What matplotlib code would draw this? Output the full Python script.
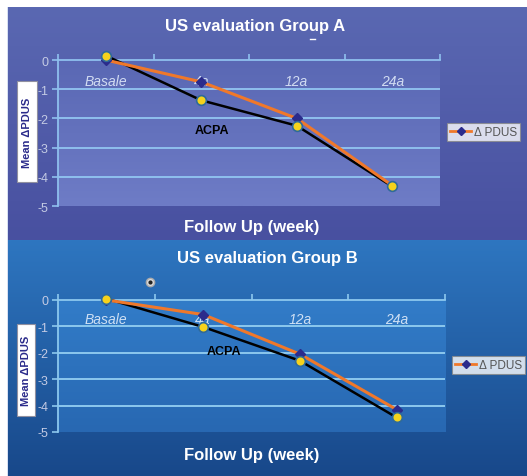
import numpy as np
import matplotlib
matplotlib.use("Agg")
import matplotlib.pyplot as plt
from matplotlib.lines import Line2D
from matplotlib.patches import Rectangle

plt.rcParams['font.family'] = ['Liberation Sans', 'DejaVu Sans']
plt.rcParams['axes.unicode_minus'] = False

# Follow-up visits
categories = ['Basale', '4a', '12a', '24a']

# Group A: mean change in PDUS score
group_a_pdus = [0.0, -0.75, -2.0, -4.3]
group_a_acpa = [0.15, -1.38, -2.25, -4.33]

# Group B
group_b_pdus = [0.0, -0.55, -2.05, -4.15]
group_b_acpa = [0.05, -1.02, -2.3, -4.45]

y_ticks = [0, -1, -2, -3, -4, -5]

W, H = 527, 477
fig = plt.figure(figsize=(W / 100, H / 100), dpi=100)

# slide backgrounds (two stacked panels with vertical gradients)
bg = np.ones((H, W, 3))
top_a, bot_a = np.array([90, 104, 178]) / 255, np.array([72, 80, 160]) / 255
top_b, bot_b = np.array([46, 118, 192]) / 255, np.array([24, 72, 138]) / 255
ya = np.linspace(0, 1, 241 - 8)[:, None]
yb = np.linspace(0, 1, H - 241)[:, None]
bg[8:241, 7:] = (top_a * (1 - ya) + bot_a * ya)[:, None, :]
bg[241:, 7:] = (top_b * (1 - yb) + bot_b * yb)[:, None, :]
bg[8:, 7] = [0.85, 0.88, 0.95]
bg_ax = fig.add_axes([0, 0, 1, 1], zorder=-10)
bg_ax.imshow(bg, extent=(0, W, H, 0), aspect='auto', interpolation='bilinear')
bg_ax.set_xlim(0, W)
bg_ax.set_ylim(H, 0)
bg_ax.axis('off')


def px(x, y):
    return x / W, 1 - y / H


def draw_panel(rect, pdus, acpa, fill_top, fill_bot, acpa_pos, grid_col, lab_col):
    ax = fig.add_axes(rect)
    ax.set_facecolor('none')
    ax.set_xlim(-0.5, 3.5)
    ax.set_ylim(-5, 0)

    # plot area shading
    t = np.linspace(0, 1, 100)[:, None, None]
    grad = np.array(fill_top) / 255 * (1 - t) + np.array(fill_bot) / 255 * t
    ax.imshow(grad, extent=(-0.5, 3.5, -5, 0), aspect='auto', zorder=0)

    for g in y_ticks[1:-1]:
        ax.axhline(g, color=grid_col, lw=1.4, zorder=1)

    for s in ['right', 'bottom']:
        ax.spines[s].set_visible(False)
    for s in ['left', 'top']:
        ax.spines[s].set_color(grid_col)
        ax.spines[s].set_linewidth(1.3)

    ax.set_yticks(y_ticks)
    ax.set_yticklabels([str(v) for v in y_ticks])
    ax.tick_params(axis='y', colors=grid_col, labelcolor='#c4cbe4',
                   labelsize=9, length=4, width=1.2, pad=3)
    ax.xaxis.tick_top()
    ax.set_xticks(np.arange(-0.5, 4, 1))
    ax.set_xticklabels([])
    ax.tick_params(axis='x', colors=grid_col, length=4, width=1.2)

    for i, lab in enumerate(categories):
        ax.text(i, -0.72, lab, ha='center', va='center', style='italic',
                color=lab_col, fontsize=10)

    x = np.arange(len(categories))
    ax.plot(x, acpa, color='black', lw=1.8, zorder=3, clip_on=False)
    ax.plot(x, pdus, color='#f0782a', lw=2.2, zorder=4, clip_on=False)
    ax.plot(x, pdus, ls='none', marker='D', ms=5, color='#2b2b8c',
            zorder=5, clip_on=False)
    ax.plot(x, acpa, ls='none', marker='o', ms=7, mfc='#f6d21c',
            mec='#2f6a9a', mew=1.2, zorder=6, clip_on=False)

    ax.text(acpa_pos[0], acpa_pos[1], 'ACPA', ha='center', va='center',
            fontsize=9, fontweight='bold', color='black', zorder=7)
    return ax


draw_panel([58 / W, 1 - 207 / H, 382 / W, 146 / H], group_a_pdus, group_a_acpa,
           (90, 104, 180), (110, 124, 198), (1.11, -2.4), '#8fc0ee', '#d2dcf2')
draw_panel([58 / W, 1 - 433 / H, 387 / W, 132 / H], group_b_pdus, group_b_acpa,
           (50, 124, 200), (40, 104, 178), (1.22, -1.95), '#8cc8ee', '#cfe0f4')

# titles and axis captions
for (x, y), s in [((255, 27), 'US evaluation Group A'),
                  ((267, 258), 'US evaluation Group B')]:
    fig.text(*px(x, y), s, ha='center', va='center', color='white',
             fontsize=12, fontweight='bold')
for (x, y) in [(252, 228), (252, 456)]:
    fig.text(*px(x, y), 'Follow Up (week)', ha='center', va='center',
             color='white', fontsize=12, fontweight='bold')

# y-axis caption boxes
for (x0, y0, x1, y1) in [(17, 82, 37, 183), (17, 325, 35, 417)]:
    fig.patches.append(Rectangle(px(x0, y1), (x1 - x0) / W, (y1 - y0) / H,
                                 transform=fig.transFigure, facecolor='white',
                                 edgecolor='#9090a0', lw=0.8, zorder=-5))
    fig.text(*px((x0 + x1) / 2, (y0 + y1) / 2), 'Mean ΔPDUS', rotation=90,
             ha='center', va='center', color='#2a2a8a', fontsize=8,
             fontweight='bold')

# legends
handle = Line2D([], [], color='#f0782a', lw=2, marker='D', ms=4.5,
                mfc='#2b2b8c', mec='#2b2b8c')
for (x, y) in [(447, 133), (452, 366)]:
    leg = fig.legend([handle], ['Δ PDUS'], loc='center left',
                     bbox_to_anchor=px(x, y), frameon=True, fancybox=False,
                     fontsize=8.5, handlelength=1.8, handletextpad=0.2,
                     borderpad=0.25, borderaxespad=0)
    leg.get_frame().set_edgecolor('#888888')
    leg.get_frame().set_linewidth(0.8)
    for t in leg.get_texts():
        t.set_color('#555555')

# small marks on the slides
fig.lines.append(Line2D([310 / W, 315 / W], [1 - 40 / H, 1 - 40 / H],
                        transform=fig.transFigure, color='white', lw=1))
fig.lines.append(Line2D([150 / W], [1 - 283 / H], transform=fig.transFigure,
                        marker='o', ms=6, mfc='#dddddd', mec='#aaaaaa',
                        ls='none'))
fig.lines.append(Line2D([150 / W], [1 - 283 / H], transform=fig.transFigure,
                        marker='o', ms=2, color='#222222', ls='none'))

fig.savefig('out.png', dpi=100)
